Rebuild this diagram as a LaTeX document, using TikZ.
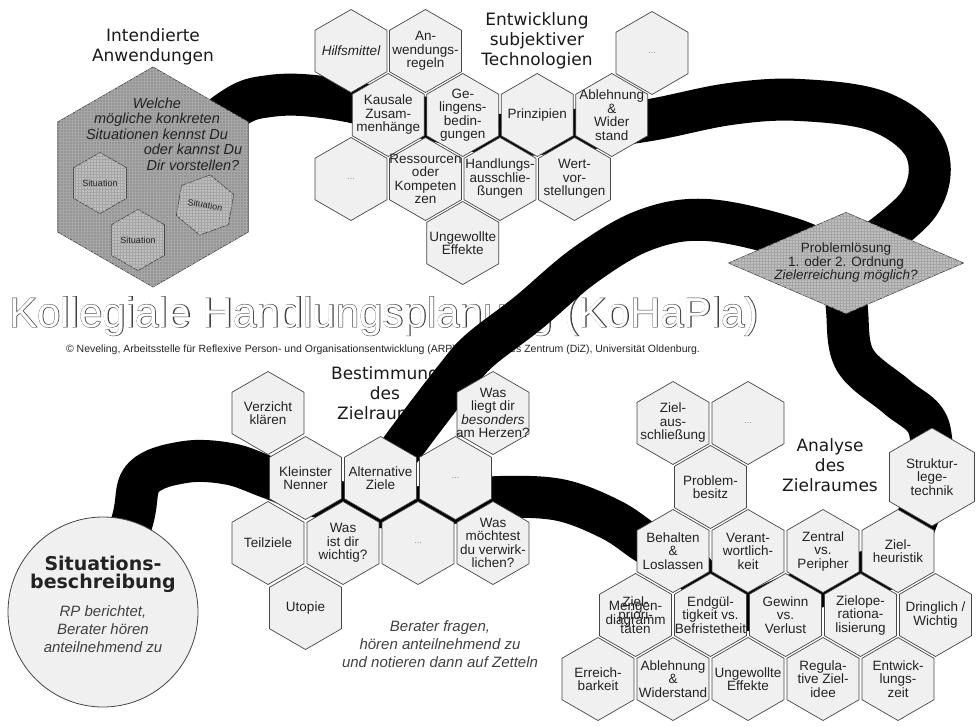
\documentclass[tikz,border=0pt]{standalone}
\usepackage{fontspec}
\setmainfont{Liberation Sans}
\newfontfamily\headfont{DejaVu Sans}
\newfontfamily\titlefat{Liberation Sans}[FakeBold=2.2]
\usetikzlibrary{shapes.geometric,patterns,backgrounds}
\definecolor{hexline}{RGB}{70,70,70}
\definecolor{hexfill}{RGB}{240,240,240}
\definecolor{darkhex}{RGB}{150,150,150}
\definecolor{midhex}{RGB}{190,190,190}
\definecolor{inkgrey}{RGB}{35,35,35}
\newcommand\hexfnt{\fontsize{13.5}{13.5}\selectfont}
\tikzset{
  hexa/.style={shape=regular polygon, regular polygon sides=6, shape border rotate=30,
    minimum size=83pt, inner sep=-14pt, draw=hexline, fill=hexfill, line width=0.7pt,
    font=\hexfnt, align=center, text=inkgrey},
  dotshex/.style={hexa, font=\fontsize{9}{9}\selectfont, text=black!45},
  hatched/.style={draw=hexline, line width=0.7pt, fill=#1, postaction={pattern=grid, pattern color=black!35}},
  smallhex/.style={hexa, minimum size=61pt, hatched=midhex, font=\fontsize{9}{9}\selectfont},
  head/.style={font=\headfont\fontsize{17}{20}\selectfont, align=center, text=black!90},
  note/.style={font=\itshape\fontsize{15}{18}\selectfont, align=center, text=black!75},
  band/.style={draw=black, line width=42pt, line cap=butt, line join=round},
  bigtitle/.style={font=\fontsize{42}{42}\selectfont, anchor=base, inner sep=0pt},
}
\begin{document}
\begin{tikzpicture}[x=1pt,y=-1pt]
  \useasboundingbox (0,0) rectangle (976,726);
  % intended applications
  \node[head] (intendtitle) at (153,47) {Intendierte\\Anwendungen};
  \node[hexa, hatched=darkhex, minimum size=220pt] (intend) at (153,177) {};
  \node[font=\itshape\fontsize{14.5}{15.5}\selectfont, align=center, text=inkgrey] (quest) at (157,134)
    {Welche\\mögliche konkreten\\Situationen kennst Du\\\hspace*{72pt}oder kannst Du\\\hspace*{72pt}Dir vorstellen?};
  \node[smallhex] (sit1) at (100,183) {Situation};
  \node[smallhex, rotate=-10] (sit2) at (205,205) {Situation};
  \node[smallhex] (sit3) at (138,240) {Situation};
  % subjective technologies
  \node[head] (techtitle) at (537,41) {Entwicklung\\subjektiver\\Technologien};
  \node[hexa, font=\hexfnt\itshape] (hilf) at (351,51) {Hilfsmittel};
  \node[hexa] (anwr) at (425.5,51) {An-\\wendungs-\\regeln};
  \node[dotshex] (dotsT) at (652,53) {...};
  \node[hexa] (kaus) at (388.25,115) {Kausale\\Zusam-\\menhänge};
  \node[hexa] (geling) at (462.75,115) {Ge-\\lingens-\\bedin-\\gungen};
  \node[hexa] (prinz) at (537.25,115) {Prinzipien};
  \node[hexa] (ablT) at (611.75,115) {Ablehnung\\\&\\Wider\\stand};
  \node[dotshex] (dotsL) at (351,179) {...};
  \node[hexa] (ress) at (425.5,179) {Ressourcen\\oder\\Kompeten\\zen};
  \node[hexa] (handl) at (500,179) {Handlungs-\\ausschlie-\\ßungen};
  \node[hexa] (wert) at (574.5,179) {Wert-\\vor-\\stellungen};
  \node[hexa] (ungT) at (462.75,243) {Ungewollte\\Effekte};
  % decision
  \node[diamond, aspect=2.32, minimum width=232pt, minimum height=100pt, inner sep=0pt,
    hatched=midhex, font=\hexfnt, align=center, text=inkgrey] (prob) at (846,263)
    {Problemlösung\\1. oder 2. Ordnung\\\textit{Zielerreichung möglich?}};
  % situation
  \node[circle, minimum size=190pt, inner sep=0pt, draw=hexline, fill=hexfill, line width=0.8pt] (sit) at (103,612) {};
  \node[font=\headfont\bfseries\fontsize{19}{18}\selectfont, align=center, text=inkgrey] (sittitle) at (103,574) {Situations-\\beschreibung};
  \node[note] (sitnote) at (103,629) {RP berichtet,\\Berater hören\\anteilnehmend zu};
  % goal space
  \node[hexa] (verz) at (268,413) {Verzicht\\klären};
  \node[hexa] (wasl) at (493,413) {Was\\liegt dir\\\textit{besonders}\\am Herzen?};
  \node[hexa] (klein) at (305.5,478) {Kleinster\\Nenner};
  \node[hexa] (altz) at (380.5,478) {Alternative\\Ziele};
  \node[dotshex] (dotsB1) at (455.5,478) {...};
  \node[hexa] (teil) at (268,543) {Teilziele};
  \node[hexa] (wasw) at (343,543) {Was\\ist dir\\wichtig?};
  \node[dotshex] (dotsB2) at (418,543) {...};
  \node[hexa] (wasm) at (493,543) {Was\\möchtest\\du verwirk-\\lichen?};
  \node[hexa] (utop) at (305.5,608) {Utopie};
  \node[note] (berater) at (440,644) {Berater fragen,\\hören anteilnehmend zu\\und notieren dann auf Zetteln};
  % analysis
  \node[head] (analysetitle) at (830,465) {Analyse\\des\\Zielraumes};
  \node[hexa] (zaus) at (673,423) {Ziel-\\aus-\\schließung};
  \node[dotshex] (dotsA) at (748,423) {...};
  \node[hexa] (probb) at (710.5,487) {Problem-\\besitz};
  \node[hexa, minimum size=98pt] (strukt) at (932,477) {Struktur-\\lege-\\technik};
  \node[hexa] (beh) at (673,551) {Behalten\\\&\\Loslassen};
  \node[hexa] (verant) at (748,551) {Verant-\\wortlich-\\keit};
  \node[hexa] (zentr) at (823,551) {Zentral\\vs.\\Peripher};
  \node[hexa] (zheur) at (898,551) {Ziel-\\heuristik};
  \node[hexa] (zprio) at (635.5,615) {Ziel-\\priori-\\täten};
  \node[font=\hexfnt, align=center, text=inkgrey] (menge) at (635.5,614) {Mengen-\\diagramm};
  \node[hexa] (endg) at (710.5,615) {Endgül-\\tigkeit vs.\\Befristetheit};
  \node[hexa] (gewinn) at (785.5,615) {Gewinn\\vs.\\Verlust};
  \node[hexa] (zoper) at (860.5,615) {Zielope-\\rationa-\\lisierung};
  \node[hexa] (dring) at (935.5,615) {Dringlich /\\Wichtig};
  \node[hexa] (erreich) at (598,679) {Erreich-\\barkeit};
  \node[hexa] (ablA) at (673,679) {Ablehnung\\\&\\Widerstand};
  \node[hexa] (ungA) at (748,679) {Ungewollte\\Effekte};
  \node[hexa] (regul) at (823,679) {Regula-\\tive Ziel-\\idee};
  \node[hexa] (entw) at (898,679) {Entwick-\\lungs-\\zeit};
  \begin{scope}[on background layer]
    % titles under the path
    \node[bigtitle, font=\titlefat\fontsize{42}{42}\selectfont, text=black!75] (titleedge) at (384,327) {Kollegiale Handlungsplanung (KoHaPla)};
    \node[bigtitle, text=white] (title) at (384,327) {Kollegiale Handlungsplanung (KoHaPla)};
    \node[font=\fontsize{10.5}{11}\selectfont, anchor=base, text=inkgrey] (copy) at (383,352)
      {© Neveling, Arbeitsstelle für Reflexive Person- und Organisationsentwicklung (ARP), Didaktisches Zentrum (DiZ), Universität Oldenburg.};
    \node[head] (bestitle) at (385,393) {Bestimmung\\des\\Zielraumes};
    % the path
    \draw[band] plot[smooth, tension=0.6] coordinates {(intend.center) (228,112) (270,96) (330,98) (425,118) (500,135) (574,130) (650,120) (730,104) (800,100) (880,112) (926,150) (918,205) (prob.center)};
    \draw[band] plot[smooth, tension=0.6] coordinates {(prob.center) (790,238) (707,220) (645,230) (585,265) (528,313) (480,350) (456,377) (410,437) (altz.center)};
    \draw[band] plot[smooth, tension=0.6] coordinates {(prob.center) (847,310) (855,360) (897,397) (928,425) (strukt.center)};
    \draw[band] plot[smooth, tension=0.6] coordinates {(sit.center) (132,522) (143,478) (185,462) (230,464) (270,478) (330,500) (400,508) (460,502) (500,497) (560,500) (612,520) (650,545) (beh.center) (710,588) (748,610) (785,598) (823,585) (860,573) (898,560) (strukt.center)};
  \end{scope}
\end{tikzpicture}
\end{document}
